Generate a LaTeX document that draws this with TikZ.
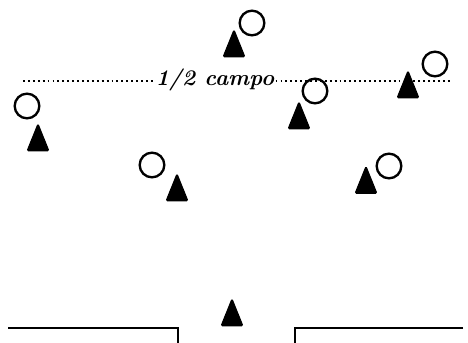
\documentclass[tikz,border=0pt]{standalone}
\usepackage{tikz}
\usetikzlibrary{shapes.geometric}

\begin{document}
\begin{tikzpicture}[
    x=0.03cm, y=-0.03cm,
    attacker/.style={circle, draw, line width=2pt, minimum size=0.74cm, inner sep=0pt},
    defender/.style={isosceles triangle, isosceles triangle apex angle=44, shape border rotate=90, fill=black, draw=black, line width=1pt, rounded corners=1pt, inner sep=0pt, minimum height=0.8cm},
    midline/.style={line width=1.4pt, dash pattern=on 1.6pt off 2.6pt},
    boxline/.style={line width=1.4pt},
    label/.style={font=\fontsize{19}{19}\selectfont\bfseries\itshape, inner sep=1pt}
]
    \useasboundingbox (0,0) rectangle (468,343);

    % Half-way line
    \node[label] (half) at (215,80) {1/2 campo};
    \coordinate (lineL) at (23,81);
    \coordinate (lineR) at (450,81);
    \draw[midline] (lineL) -- (half.west |- lineL);
    \draw[midline] (half.east |- lineR) -- (lineR);

    % Circles
    \node[attacker] (c1) at (252,23) {};
    \node[attacker] (c2) at (435,64) {};
    \node[attacker] (c3) at (315,91) {};
    \node[attacker] (c4) at (27,106) {};
    \node[attacker] (c5) at (152,165) {};
    \node[attacker] (c6) at (389,166) {};

    % Triangles
    \node[defender] (t1) at (234,49.5) {};
    \node[defender] (t2) at (408,90.5) {};
    \node[defender] (t3) at (299,121.5) {};
    \node[defender] (t4) at (38,143.5) {};
    \node[defender] (t5) at (177,193.5) {};
    \node[defender] (t6) at (366,186) {};
    \node[defender] (t7) at (232,318.5) {};

    % Penalty areas
    \draw[boxline] (8,328) -- (178,328) -- (178,343);
    \draw[boxline] (463,328) -- (295,328) -- (295,343);
\end{tikzpicture}
\end{document}
